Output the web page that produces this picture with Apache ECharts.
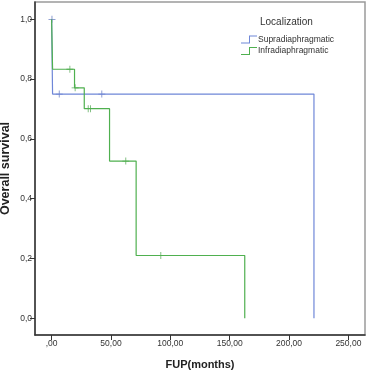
<!DOCTYPE html>
<html><head><meta charset="utf-8">
<script src="https://cdn.jsdelivr.net/npm/echarts@6/dist/echarts.min.js"></script>
<style>html,body{margin:0;padding:0;background:#fff}#c{width:367px;height:371px}</style>
</head><body><div id="c"></div>
<script>
const xTicks = [0, 50, 100, 150, 200, 250];
const yTicks = [0, 0.2, 0.4, 0.6, 0.8, 1.0];
const supraTimes = [0, 0.8, 221];
const supraSurv = [1.0, 0.75, 0];
const supraCensTimes = [0.3, 6.4, 42.3];
const supraCensSurv = [1.0, 0.75, 0.75];
const infraTimes = [0, 0.8, 19.3, 27.5, 48.8, 71.2, 162.7];
const infraSurv = [1.0, 0.833, 0.771, 0.701, 0.526, 0.21, 0];
const infraCensTimes = [15.4, 19.8, 30.8, 32.8, 62.5, 92];
const infraCensSurv = [0.833, 0.771, 0.701, 0.701, 0.526, 0.21];

const blue = '#6f87d8', green = '#4fb04f';
const zip = (a, b) => a.map((v, i) => [v, b[i]]);
const plus = 'path://M4,0 H5 V9 H4 Z M0,4 H9 V5 H0 Z';
const stepIcon = 'path://M0,7 H8 V0 H16 V1 H9 V8 H0 Z';
const font = 'Liberation Sans, Arial, sans-serif';

const chart = echarts.init(document.getElementById('c'));
chart.setOption({
  animation: false,
  grid: {left: 35, right: 2, top: 2, bottom: 36, show: true, borderColor: '#9a9a9a', borderWidth: 1.5,
    outerBoundsMode: 'none', containLabel: false},
  title: {text: 'Localization', left: 260, top: 17, padding: 0, textStyle: {fontSize: 10, fontWeight: 'normal', color: '#333', fontFamily: font}},
  legend: {
    orient: 'vertical', left: 241, top: 35, padding: 0, itemWidth: 16, itemHeight: 8, itemGap: 2.5,
    textStyle: {fontSize: 8.5, color: '#333', fontFamily: font, padding: [0,0,0,-4]},
    data: [{name: 'Supradiaphragmatic', icon: stepIcon}, {name: 'Infradiaphragmatic', icon: stepIcon}]
  },
  xAxis: {
    type: 'value', min: -14, max: 264,
    name: 'FUP(months)', nameLocation: 'middle', nameGap: 24,
    nameTextStyle: {fontSize: 11, fontWeight: 'bold', color: '#222', fontFamily: font},
    axisLine: {onZero: false, lineStyle: {color: '#333', width: 1.5}},
    axisTick: {customValues: xTicks, length: 5, lineStyle: {color: '#333'}},
    axisLabel: {customValues: xTicks, margin: 4, fontSize: 8.5, color: '#333', fontFamily: font,
      formatter: v => v === 0 ? ',00' : v.toFixed(2).replace('.', ',')},
    splitLine: {show: false}
  },
  yAxis: {
    type: 'value', min: -0.056, max: 1.058,
    name: 'Overall survival', nameLocation: 'middle', nameGap: 23, nameMoveOverlap: false,
    nameTextStyle: {fontSize: 12.5, fontWeight: 'bold', color: '#222', fontFamily: font},
    axisLine: {onZero: false, lineStyle: {color: '#333', width: 1.5}},
    axisTick: {customValues: yTicks, length: 5, lineStyle: {color: '#333'}},
    axisLabel: {customValues: yTicks, margin: 3, fontSize: 8.5, color: '#333', fontFamily: font,
      formatter: v => v.toFixed(1).replace('.', ',')},
    splitLine: {show: false}
  },
  series: [
    {name: 'Supradiaphragmatic', type: 'line', step: 'end', data: zip(supraTimes, supraSurv),
      showSymbol: false, lineStyle: {color: blue, width: 1.2}, itemStyle: {color: blue}},
    {name: 'Infradiaphragmatic', type: 'line', step: 'end', data: zip(infraTimes, infraSurv),
      showSymbol: false, lineStyle: {color: green, width: 1.2}, itemStyle: {color: green}},
    {name: 'Supradiaphragmatic', type: 'scatter', data: zip(supraCensTimes, supraCensSurv),
      symbol: plus, symbolSize: [7, 7], itemStyle: {color: '#4a62b8'}},
    {name: 'Infradiaphragmatic', type: 'scatter', data: zip(infraCensTimes, infraCensSurv),
      symbol: plus, symbolSize: [7, 7], itemStyle: {color: '#3a9a3a'}}
  ]
});
</script></body></html>
